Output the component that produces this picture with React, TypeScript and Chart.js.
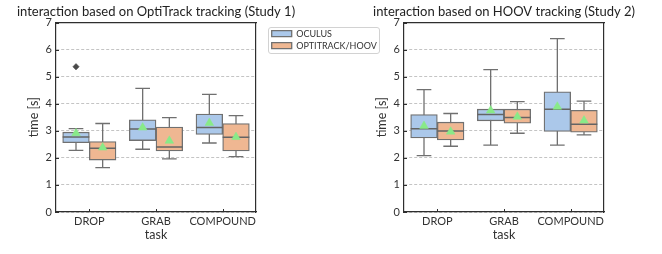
import React, { useEffect, useRef } from 'react';
import { Chart, registerables } from 'chart.js';

Chart.register(...registerables);

const FONT = 'Lato, "Open Sans", sans-serif';

const categories = ['DROP', 'GRAB', 'COMPOUND'];
const seriesLabels = ['OCULUS', 'OPTITRACK/HOOV'];
const yTickValues = [0, 1, 2, 3, 4, 5, 6, 7];
const chartTitles = [
  'interaction based on OptiTrack tracking (Study 1)',
  'interaction based on HOOV tracking (Study 2)',
];
const xAxisTitle = 'task';
const yAxisTitle = 'time [s]';

// Study 1 – OCULUS
const s1OculusMin = [2.28, 2.32, 2.55];
const s1OculusQ1 = [2.56, 2.64, 2.87];
const s1OculusMedian = [2.77, 3.07, 3.12];
const s1OculusQ3 = [2.95, 3.41, 3.62];
const s1OculusMax = [3.08, 4.57, 4.35];
const s1OculusMean = [2.91, 3.12, 3.29];
const s1OculusOutliers = [[5.37], [], []];
// Study 1 – OPTITRACK
const s1OptiMin = [1.64, 1.96, 2.05];
const s1OptiQ1 = [1.92, 2.26, 2.26];
const s1OptiMedian = [2.36, 2.4, 2.76];
const s1OptiQ3 = [2.6, 3.14, 3.27];
const s1OptiMax = [3.27, 3.49, 3.56];
const s1OptiMean = [2.38, 2.63, 2.77];
const s1OptiOutliers = [[], [], []];
// Study 2 – OCULUS
const s2OculusMin = [2.08, 2.47, 2.47];
const s2OculusQ1 = [2.74, 3.37, 2.98];
const s2OculusMedian = [3.08, 3.6, 3.8];
const s2OculusQ3 = [3.6, 3.8, 4.44];
const s2OculusMax = [4.52, 5.26, 6.41];
const s2OculusMean = [3.18, 3.75, 3.89];
const s2OculusOutliers = [[], [], []];
// Study 2 – HOOV
const s2HoovMin = [2.43, 2.91, 2.85];
const s2HoovQ1 = [2.66, 3.28, 2.95];
const s2HoovMedian = [2.99, 3.49, 3.24];
const s2HoovQ3 = [3.32, 3.8, 3.76];
const s2HoovMax = [3.64, 4.08, 4.1];
const s2HoovMean = [2.97, 3.52, 3.38];
const s2HoovOutliers = [[], [], []];

const BOX_COLORS = ['#abc8ea', '#efb792'];
const EDGE = 'rgb(112,112,112)';
const FRAME = '#2e2e2e';
const GRID = '#c4c4c4';
const MEAN_COLOR = '#88ea88';
const TEXT = '#333333';

const SERIES_OFFSET = [-0.2, 0.2];
const HALF_BOX = 0.2;
const CAP_HALF = 0.11;

type Stats = {
  min: number[]; q1: number[]; med: number[]; q3: number[]; max: number[]; mean: number[]; out: number[][];
};

function buildDatasets(stats: Stats[]) {
  const boxes = stats.map((s, k) => ({
    type: 'bar',
    label: seriesLabels[k],
    data: categories.map((_, i) => ({ x: i + SERIES_OFFSET[k], y: [s.q1[i], s.q3[i]] })),
    backgroundColor: BOX_COLORS[k],
    borderColor: EDGE,
    borderWidth: 1.3,
    borderSkipped: false,
    grouped: false,
    categoryPercentage: 1,
    barPercentage: 1,
    xAxisID: 'x2',
    yAxisID: 'y',
    order: 2,
  }));
  const whisk: any[] = [];
  const meds: any[] = [];
  const means: any[] = [];
  const outs: any[] = [];
  stats.forEach((s, k) =>
    categories.forEach((_, i) => {
      const cx = i + SERIES_OFFSET[k];
      whisk.push(
        { x: cx, y: s.min[i] }, { x: cx, y: s.max[i] }, { x: cx, y: null },
        { x: cx - CAP_HALF, y: s.max[i] }, { x: cx + CAP_HALF, y: s.max[i] }, { x: cx, y: null },
        { x: cx - CAP_HALF, y: s.min[i] }, { x: cx + CAP_HALF, y: s.min[i] }, { x: cx, y: null },
      );
      meds.push({ x: cx - HALF_BOX, y: s.med[i] }, { x: cx + HALF_BOX, y: s.med[i] }, { x: cx, y: null });
      means.push({ x: cx, y: s.mean[i] });
      s.out[i].forEach((v) => outs.push({ x: cx, y: v }));
    }),
  );
  const lineBase = {
    type: 'line', xAxisID: 'x2', yAxisID: 'y', pointRadius: 0, pointHoverRadius: 0,
    fill: false, spanGaps: false, tension: 0, borderCapStyle: 'butt',
  };
  return [
    ...boxes,
    { ...lineBase, label: 'whiskers', data: whisk, borderColor: EDGE, borderWidth: 1.3, order: 3 },
    { ...lineBase, label: 'medians', data: meds, borderColor: 'rgb(100,100,100)', borderWidth: 1.5, order: 1 },
    {
      ...lineBase, label: 'means', data: means, showLine: false, pointStyle: 'triangle', pointRadius: 5,
      pointBackgroundColor: MEAN_COLOR, pointBorderColor: MEAN_COLOR, pointBorderWidth: 0.5, order: 0,
    },
    {
      ...lineBase, label: 'outliers', data: outs, showLine: false, pointStyle: 'rectRot', pointRadius: 3.2,
      pointBackgroundColor: '#4a4a4a', pointBorderColor: '#4a4a4a', pointBorderWidth: 0.5, order: 0,
    },
  ];
}

const innerTicks = {
  id: 'innerTicks',
  afterDatasetsDraw(chart: any) {
    const { ctx, chartArea } = chart;
    const xs = chart.scales.x;
    const ys = chart.scales.y;
    ctx.save();
    ctx.strokeStyle = FRAME;
    ctx.lineWidth = 1;
    ctx.beginPath();
    xs.ticks.forEach((_: any, i: number) => {
      const px = Math.round(xs.getPixelForTick(i)) + 0.5;
      ctx.moveTo(px, chartArea.bottom);
      ctx.lineTo(px, chartArea.bottom - 3);
    });
    ys.ticks.forEach((_: any, i: number) => {
      const py = Math.round(ys.getPixelForTick(i)) + 0.5;
      ctx.moveTo(chartArea.left, py);
      ctx.lineTo(chartArea.left + 3, py);
    });
    ctx.stroke();
    ctx.restore();
  },
};

const legendPlace = {
  id: 'legendPlace',
  afterLayout(chart: any) {
    const lg = chart.legend;
    if (!lg || !lg.options.display) return;
    const ca = chart.chartArea;
    const w = lg.width;
    const h = lg.height;
    lg.left = ca.right + 12.7;
    lg.right = lg.left + w;
    lg.top = ca.top + 3.6;
    lg.bottom = lg.top + h;
  },
  afterDraw(chart: any) {
    const lg = chart.legend;
    if (!lg || !lg.options.display) return;
    const hb = lg.legendHitBoxes;
    if (!hb || !hb.length) return;
    const l = Math.min(...hb.map((b: any) => b.left)) - 3.4;
    const r = Math.max(...hb.map((b: any) => b.left + b.width)) + 2.5;
    const t = hb[0].top - 2;
    const last = hb[hb.length - 1];
    const b = last.top + last.height + 3;
    const ctx = chart.ctx;
    ctx.save();
    ctx.strokeStyle = '#d2d2d2';
    ctx.lineWidth = 1;
    ctx.beginPath();
    (ctx as any).roundRect(Math.round(l) + 0.5, Math.round(t) + 0.5, Math.round(r - l), Math.round(b - t), 2.5);
    ctx.stroke();
    ctx.restore();
  },
};

function makeConfig(title: string, stats: Stats[], showLegend: boolean, padLeft: number, padRight: number) {
  return {
    type: 'bar',
    data: { labels: categories, datasets: buildDatasets(stats) },
    options: {
      responsive: false,
      animation: false,
      events: [],
      layout: { padding: 0 },
      plugins: {
        title: {
          display: true,
          text: title,
          color: '#222',
          font: { family: FONT, size: 13, weight: 'normal' },
          padding: { top: 4, bottom: 3 },
        },
        legend: showLegend
          ? {
              display: true,
              position: 'chartArea',
              align: 'start',
              labels: {
                boxWidth: 20,
                boxHeight: 6,
                padding: 3,
                color: TEXT,
                font: { family: FONT, size: 9 },
                filter: (item: any) => item.datasetIndex < 2,
              },
            }
          : { display: false },
        tooltip: { enabled: false },
      },
      scales: {
        x: {
          type: 'category',
          position: 'bottom',
          offset: true,
          grid: { display: false, drawTicks: false, offset: false },
          border: { display: true, color: FRAME, width: 1.2 },
          ticks: { color: TEXT, font: { family: FONT, size: 11 }, padding: 3, maxRotation: 0, autoSkip: false },
          title: {
            display: true, text: xAxisTitle, color: TEXT, font: { family: FONT, size: 12.5 },
            padding: { top: 0, bottom: 12 },
          },
          afterFit: (s: any) => { s.height = 42; },
        },
        x2: {
          type: 'linear', axis: 'x', display: false, min: -0.5, max: 2.5, offset: false,
          grid: { offset: false }, ticks: { stepSize: 0.5 },
        },
        xTop: {
          type: 'linear', axis: 'x', position: 'top', display: true, offset: false,
          grid: { display: false, drawTicks: false }, ticks: { display: false },
          border: { display: true, color: FRAME, width: 1.2 },
          afterFit: (s: any) => { s.height = 0; },
        },
        y: {
          type: 'linear',
          position: 'left',
          min: yTickValues[0],
          max: yTickValues[yTickValues.length - 1],
          afterBuildTicks: (s: any) => { s.ticks = yTickValues.map((v) => ({ value: v })); },
          ticks: { color: TEXT, font: { family: FONT, size: 11 }, padding: 4 },
          grid: { color: GRID, lineWidth: 1, drawTicks: false },
          border: { display: true, color: FRAME, width: 1.2, dash: [3, 2] },
          title: {
            display: true, text: yAxisTitle, color: TEXT, font: { family: FONT, size: 12.5 },
            padding: { top: 26, bottom: 0 },
          },
          afterFit: (s: any) => { s.width = 56; },
        },
        yPadL: {
          type: 'linear', axis: 'y', position: 'left', weight: 1, display: true,
          grid: { display: false, drawTicks: false }, ticks: { display: false }, border: { display: false },
          afterFit: (s: any) => { s.width = padLeft; },
        },
        yPadR: {
          type: 'linear', axis: 'y', position: 'right', display: true,
          grid: { display: false, drawTicks: false }, ticks: { display: false },
          border: { display: true, color: FRAME, width: 1.2 },
          afterFit: (s: any) => { s.width = padRight; },
        },
      },
    },
    plugins: [innerTicks, legendPlace],
  };
}

function BoxChart(props: { which: number; left: number; width: number; padLeft: number; padRight: number }) {
  const ref = useRef<HTMLCanvasElement>(null);
  useEffect(() => {
    const stats: Stats[] =
      props.which === 0
        ? [
            { min: s1OculusMin, q1: s1OculusQ1, med: s1OculusMedian, q3: s1OculusQ3, max: s1OculusMax, mean: s1OculusMean, out: s1OculusOutliers },
            { min: s1OptiMin, q1: s1OptiQ1, med: s1OptiMedian, q3: s1OptiQ3, max: s1OptiMax, mean: s1OptiMean, out: s1OptiOutliers },
          ]
        : [
            { min: s2OculusMin, q1: s2OculusQ1, med: s2OculusMedian, q3: s2OculusQ3, max: s2OculusMax, mean: s2OculusMean, out: s2OculusOutliers },
            { min: s2HoovMin, q1: s2HoovQ1, med: s2HoovMedian, q3: s2HoovQ3, max: s2HoovMax, mean: s2HoovMean, out: s2HoovOutliers },
          ];
    const cfg: any = makeConfig(chartTitles[props.which], stats, props.which === 0, props.padLeft, props.padRight);
    const chart = new Chart(ref.current as HTMLCanvasElement, cfg);
    return () => chart.destroy();
  }, []);
  return (
    <canvas
      ref={ref}
      width={props.width}
      height={254}
      style={{ position: 'absolute', left: props.left, top: 0, width: props.width, height: 254 }}
    />
  );
}

export default function App() {
  Chart.defaults.font.family = FONT;
  return (
    <div style={{ position: 'absolute', left: 0, top: 0, width: 662, height: 254, overflow: 'hidden', background: '#fff' }}>
      <BoxChart which={0} left={-72} width={456} padLeft={72} padRight={128} />
      <BoxChart which={1} left={346} width={316} padLeft={2} padRight={58} />
    </div>
  );
}
